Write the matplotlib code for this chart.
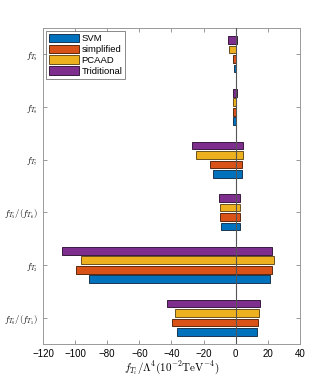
import numpy as np
import matplotlib.pyplot as plt

plt.rcParams['font.family'] = ['Liberation Sans', 'DejaVu Sans']
plt.rcParams['mathtext.fontset'] = 'cm'

# coefficients, bottom to top
labels = [r'$f_{T_0}/(f_{T_1})$', r'$f_{T_2}$', r'$f_{T_5}/(f_{T_6})$',
          r'$f_{T_7}$', r'$f_{T_8}$', r'$f_{T_9}$']
methods = ['SVM', 'simplified', 'PCAAD', 'Triditional']
colors = ['#0072BD', '#D95319', '#EDB120', '#7E2F8E']
edges = ['#1a3550', '#5a2a10', '#6a5020', '#3a1a40']

# lower / upper bounds for each method
svm_lo = [-36.4, -91.6, -9.0, -14.4, -1.5, -1.2]
svm_hi = [13.2, 21.1, 2.4, 3.9, 0.4, 0.25]
simp_lo = [-39.5, -99.7, -9.6, -16.1, -1.7, -1.4]
simp_hi = [14.0, 22.3, 2.7, 4.1, 0.3, 0.25]
pcaad_lo = [-38.1, -96.2, -9.6, -24.6, -1.7, -4.2]
pcaad_hi = [14.7, 23.6, 2.8, 4.3, 0.4, 0.4]
trad_lo = [-43.0, -108.0, -10.5, -27.5, -1.9, -4.6]
trad_hi = [14.9, 22.7, 2.8, 4.3, 0.5, 0.6]

lows = [svm_lo, simp_lo, pcaad_lo, trad_lo]
highs = [svm_hi, simp_hi, pcaad_hi, trad_hi]

fig = plt.figure(figsize=(3.32, 3.88), dpi=100)
ax = fig.add_axes([0.1295, 0.1134, 0.7741, 0.8144])

y = np.arange(1, len(labels) + 1)
offsets = [-0.27, -0.09, 0.09, 0.27]
for i in range(4):
    lo = np.array(lows[i])
    hi = np.array(highs[i])
    ax.barh(y + offsets[i], hi - lo, left=lo, height=0.145,
            color=colors[i], edgecolor=edges[i], linewidth=0.7, label=methods[i])

ax.axvline(0, color='#555555', linewidth=0.8, zorder=3)

ax.set_xlim(-120, 40)
ax.set_ylim(0.5, 6.5)
ax.set_xticks(np.arange(-120, 41, 20))
ax.set_yticks(y)
ax.set_yticklabels(labels, fontsize=6.3)
ax.tick_params(axis='x', labelsize=7, direction='in', top=True, length=3,
               color='#888888', width=0.6)
ax.tick_params(axis='y', direction='in', right=True, length=3,
               color='#888888', width=0.6)
for s in ax.spines.values():
    s.set_color('#999999')
    s.set_linewidth(0.7)
ax.set_xlabel(r'$f_{T_i}/\Lambda^4(10^{-2}\mathrm{TeV}^{-4})$', fontsize=8, labelpad=1)

leg = ax.legend(loc='upper left', fontsize=6.8, fancybox=False, edgecolor='#555555',
                handlelength=3.2, handleheight=1.0, borderpad=0.3,
                labelspacing=0.15, handletextpad=0.3, borderaxespad=0.3)
leg.get_frame().set_linewidth(0.6)

fig.savefig('out.png', dpi=100)
